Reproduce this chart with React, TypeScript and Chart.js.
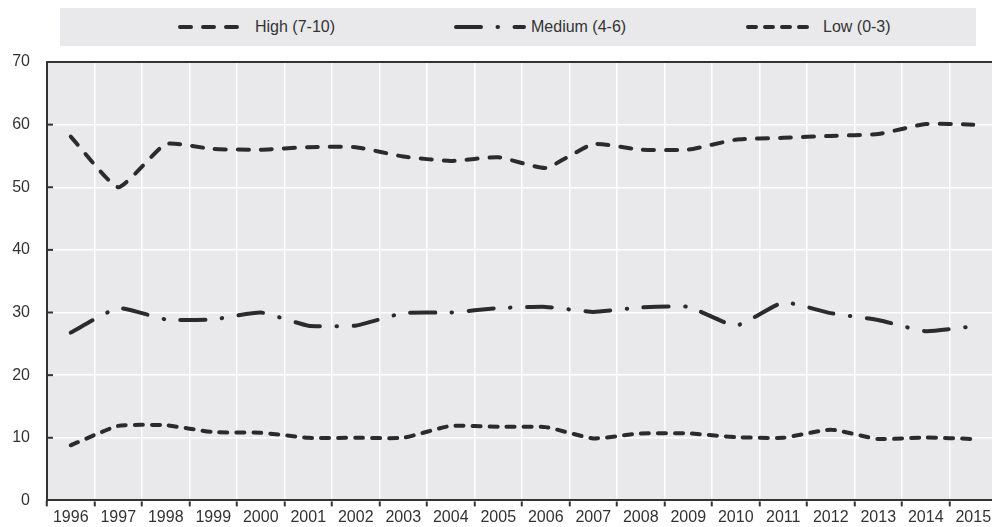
import React, { useEffect, useRef } from "react";
import { Chart, registerables } from "chart.js";

Chart.register(...registerables);

const years = ["1996", "1997", "1998", "1999", "2000", "2001", "2002", "2003", "2004", "2005", "2006", "2007", "2008", "2009", "2010", "2011", "2012", "2013", "2014", "2015"];
const high = [58.1, 50.0, 56.9, 56.1, 56.0, 56.4, 56.4, 54.9, 54.2, 54.8, 53.1, 56.9, 56.0, 56.0, 57.6, 57.9, 58.2, 58.5, 60.1, 60.0];
const medium = [26.8, 30.7, 28.9, 28.9, 30.0, 27.9, 27.9, 29.9, 30.0, 30.7, 30.9, 30.1, 30.8, 30.9, 27.9, 31.6, 29.9, 28.8, 27.0, 27.8];
const low = [8.8, 11.9, 12.0, 10.9, 10.8, 10.0, 10.0, 10.0, 11.9, 11.75, 11.7, 9.9, 10.7, 10.7, 10.1, 10.0, 11.3, 9.8, 10.05, 9.8];
const seriesNames = ["High (7-10)", "Medium (4-6)", "Low (0-3)"];
const yTicks = [0, 10, 20, 30, 40, 50, 60, 70];

const FONT = "'Liberation Sans', Arial, sans-serif";
const INK = "#2b2b2b";
const TEXT = "#333333";
const BG = "#e9e9eb";
const dashes = [[11, 12], [25, 16.5, 0.5, 16.5], [8, 9]];
const legendLeft = [118, 394, 686];

const plotPlugin = {
  id: "plotDecor",
  beforeDraw(chart: any) {
    const { ctx, chartArea } = chart;
    ctx.save();
    ctx.fillStyle = BG;
    ctx.fillRect(chartArea.left, chartArea.top, chartArea.right - chartArea.left, chartArea.bottom - chartArea.top);
    ctx.restore();
  },
  afterDraw(chart: any) {
    const { ctx, chartArea } = chart;
    const y = chart.scales.y;
    ctx.save();
    ctx.strokeStyle = TEXT;
    ctx.lineWidth = 2;
    ctx.beginPath();
    ctx.moveTo(chartArea.left - 1, chartArea.top);
    ctx.lineTo(chartArea.right, chartArea.top);
    ctx.stroke();
    yTicks.forEach((v) => {
      if (v === 0 || v === 70) return;
      const py = y.getPixelForValue(v);
      ctx.beginPath();
      ctx.moveTo(chartArea.left, py);
      ctx.lineTo(chartArea.left + 6, py);
      ctx.stroke();
    });
    ctx.restore();
  },
};

export default function App() {
  const ref = useRef<HTMLCanvasElement>(null);
  useEffect(() => {
    if (!ref.current) return;
    const series = [high, medium, low];
    const chart = new Chart(ref.current, {
      type: "line",
      data: {
        labels: years,
        datasets: series.map((d, i) => ({
          label: seriesNames[i],
          data: d,
          borderColor: INK,
          borderWidth: 4,
          borderDash: dashes[i],
          borderCapStyle: "round",
          pointRadius: 0,
          tension: 0.15,
          fill: false,
        })),
      },
      options: {
        animation: false,
        responsive: false,
        devicePixelRatio: 1,
        layout: { padding: { top: 62, left: 12, right: 3, bottom: 0 } },
        plugins: { legend: { display: false }, tooltip: { enabled: false } },
        scales: {
          x: {
            type: "category",
            offset: true,
            afterFit: (s: any) => { s.height = 26; },
            grid: { offset: true, color: "#ffffff", lineWidth: 1.5, tickColor: TEXT, tickLength: 6, tickWidth: 2, drawTicks: true },
            border: { color: TEXT, width: 2 },
            ticks: { color: TEXT, font: { family: FONT, size: 16 }, padding: 2, maxRotation: 0, autoSkip: false },
          },
          y: {
            min: 0,
            max: 70,
            afterFit: (s: any) => { s.width = 35; },
            afterBuildTicks: (s: any) => { s.ticks = yTicks.map((v) => ({ value: v })); },
            grid: { color: "#ffffff", lineWidth: 1.5, drawTicks: false },
            border: { color: TEXT, width: 2 },
            ticks: { color: TEXT, font: { family: FONT, size: 16 }, padding: 17 },
          },
        },
      },
      plugins: [plotPlugin],
    } as any);
    return () => chart.destroy();
  }, []);

  return (
    <div style={{ position: "fixed", left: 0, top: 0, width: 992, height: 527, overflow: "hidden", background: "#fff" }}>
      <canvas ref={ref} width={1000} height={527} style={{ position: "absolute", left: 0, top: 0, width: 1000, height: 527 }} />
      <div style={{ position: "absolute", left: 60, top: 8, width: 916, height: 38, background: BG, fontFamily: FONT, fontSize: 16, color: TEXT }}>
        {seriesNames.map((name, i) => (
          <div key={name} style={{ position: "absolute", left: legendLeft[i], top: 0, height: 38, display: "flex", alignItems: "center", whiteSpace: "nowrap" }}>
            <svg width={72} height={10} style={{ display: "block" }}>
              <line x1={2} y1={5} x2={70} y2={5} stroke={INK} strokeWidth={4} strokeLinecap="round" strokeDasharray={dashes[i].join(" ")} />
            </svg>
            <span style={{ marginLeft: 5 }}>{name}</span>
          </div>
        ))}
      </div>
    </div>
  );
}
